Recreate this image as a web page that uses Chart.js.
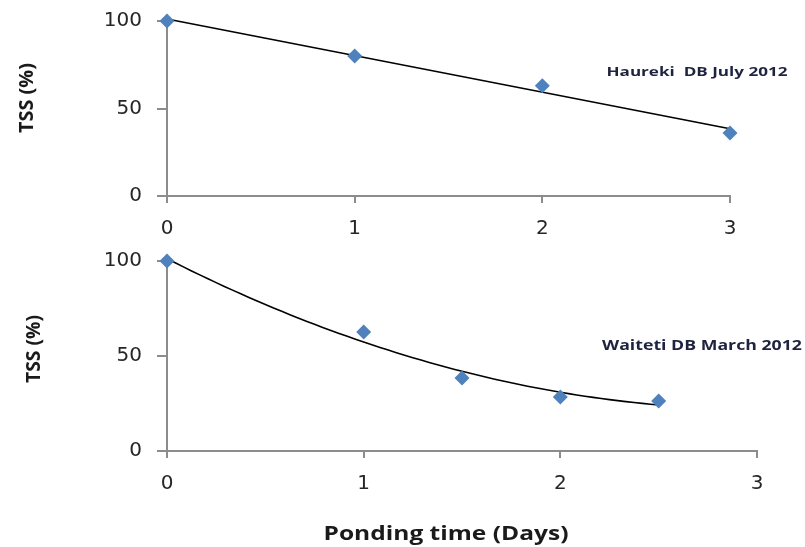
<!DOCTYPE html>
<html>
<head>
<meta charset="utf-8">
<script src="https://cdn.jsdelivr.net/npm/chart.js@4/dist/chart.umd.min.js"></script>
<style>
  html, body { margin: 0; padding: 0; background: #fff; }
  #wrap { position: relative; width: 805px; height: 547px; overflow: hidden; }
  .pane { position: absolute; left: 0; }
</style>
</head>
<body>
<div id="wrap">
  <div class="pane" style="top:0px"><canvas id="top" width="805" height="245"></canvas></div>
  <div class="pane" style="top:245px"><canvas id="bot" width="805" height="302"></canvas></div>
</div>
<script>
// ---- data ----
const xTickValues = [0, 1, 2, 3];
const yTickValues = [0, 50, 100];
const haurekiDays = [0, 1, 2, 3];
const haurekiTSS  = [100, 80, 63, 36];
const waitetiDays = [0, 1, 1.5, 2, 2.5];
const waitetiTSS  = [100, 62.6, 38.4, 28.4, 26.3];
const yTitle = 'TSS (%)';
const xTitle = 'Ponding time (Days)';
const haurekiLabel = 'Haureki  DB July 2012';
const waitetiLabel = 'Waiteti DB March 2012';

// ---- least squares trendlines (derived from the data) ----
function polyFit(xs, ys, order) {
  const n = order + 1;
  const A = [], b = [];
  for (let r = 0; r < n; r++) {
    A.push([]);
    for (let c = 0; c < n; c++) A[r].push(xs.reduce((s, x) => s + Math.pow(x, r + c), 0));
    b.push(xs.reduce((s, x, i) => s + Math.pow(x, r) * ys[i], 0));
  }
  for (let i = 0; i < n; i++) {
    for (let k = i + 1; k < n; k++) {
      const f = A[k][i] / A[i][i];
      for (let j = i; j < n; j++) A[k][j] -= f * A[i][j];
      b[k] -= f * b[i];
    }
  }
  const coef = new Array(n).fill(0);
  for (let i = n - 1; i >= 0; i--) {
    let s = b[i];
    for (let j = i + 1; j < n; j++) s -= A[i][j] * coef[j];
    coef[i] = s / A[i][i];
  }
  return coef;
}
function trend(xs, ys, order, steps) {
  const c = polyFit(xs, ys, order);
  const x0 = Math.min(...xs), x1 = Math.max(...xs);
  const pts = [];
  for (let i = 0; i <= steps; i++) {
    const x = x0 + (x1 - x0) * i / steps;
    pts.push({ x, y: c.reduce((s, ci, k) => s + ci * Math.pow(x, k), 0) });
  }
  return pts;
}

const BLUE = '#4F81BD';
const AXIS = '#8C8C8C';
const TXT = '#262626';

const textPlugin = {
  id: 'texts',
  afterDraw(chart, args, opts) {
    const ctx = chart.ctx;
    (opts.items || []).forEach(it => {
      ctx.save();
      ctx.font = it.font;
      ctx.fillStyle = it.color || TXT;
      ctx.textBaseline = 'middle';
      ctx.textAlign = 'center';
      const w = ctx.measureText(it.text).width;
      const sx = it.width ? it.width / w : 1;
      ctx.translate(it.x, it.y);
      ctx.rotate((it.rot || 0) * Math.PI / 180);
      ctx.scale(sx, 1);
      ctx.fillText(it.text, 0, 0);
      ctx.restore();
    });
  }
};

function makeChart(id, xs, ys, order, steps, area, canvasH, texts) {
  // area = target plot rectangle inside this canvas
  const pad = { top: area.top, right: 805 - area.right, left: 0, bottom: 0 };
  const xHeight = canvasH - area.bottom;
  const chart = new Chart(document.getElementById(id), {
    type: 'scatter',
    data: {
      datasets: [
        {
          label: 'trend',
          data: trend(xs, ys, order, steps),
          showLine: true,
          borderColor: '#000',
          borderWidth: 1.6,
          pointRadius: 0,
          pointHoverRadius: 0,
          tension: 0,
          clip: false,
          order: 2
        },
        {
          label: 'TSS',
          data: xs.map((x, i) => ({ x, y: ys[i] })),
          pointStyle: 'rectRot',
          pointRadius: 7.5,
          pointHoverRadius: 7.5,
          backgroundColor: BLUE,
          borderColor: BLUE,
          borderWidth: 0,
          clip: false,
          order: 1
        }
      ]
    },
    options: {
      responsive: false,
      animation: false,
      layout: { padding: pad, autoPadding: false },
      plugins: {
        legend: { display: false },
        tooltip: { enabled: false },
        texts: { items: texts }
      },
      scales: {
        x: {
          type: 'linear',
          min: xTickValues[0],
          max: xTickValues[xTickValues.length - 1],
          afterBuildTicks: s => { s.ticks = xTickValues.map(v => ({ value: v })); },
          afterFit: s => { s.height = xHeight; s.paddingLeft = 0; s.paddingRight = 0; },
          grid: { drawOnChartArea: false, drawTicks: true, tickLength: 7, color: AXIS, lineWidth: 2 },
          border: { display: true, color: AXIS, width: 2 },
          ticks: { color: TXT, padding: 14, font: { family: 'DejaVu Sans', size: 20 } }
        },
        y: {
          type: 'linear',
          min: yTickValues[0],
          max: yTickValues[yTickValues.length - 1],
          afterBuildTicks: s => { s.ticks = yTickValues.map(v => ({ value: v })); },
          afterFit: s => { s.width = area.left; s.paddingTop = 0; s.paddingBottom = 0; },
          grid: { drawOnChartArea: false, drawTicks: true, tickLength: 10, color: AXIS, lineWidth: 2 },
          border: { display: true, color: AXIS, width: 2 },
          ticks: { color: TXT, padding: 15, font: { family: 'DejaVu Sans', size: 20 } }
        }
      }
    },
    plugins: [textPlugin]
  });
  // correct any residual layout offset so the plot rectangle matches
  for (let k = 0; k < 2; k++) {
    const ca = chart.chartArea;
    const dTop = area.top - ca.top, dBottom = ca.bottom - area.bottom, dRight = ca.right - area.right;
    if (Math.abs(dTop) < 0.5 && Math.abs(dBottom) < 0.5 && Math.abs(dRight) < 0.5) break;
    pad.top += dTop; pad.bottom += dBottom; pad.right += dRight;
    chart.options.layout.padding = Object.assign({}, pad);
    chart.update();
  }
  return chart;
}

makeChart('top', haurekiDays, haurekiTSS, 1, 1,
  { left: 167, top: 21, right: 730, bottom: 196 }, 245,
  [
    { text: yTitle, x: 28, y: 98, rot: -90, font: 'bold 19px "Open Sans"', width: 70, color: '#1a1a1a' },
    { text: haurekiLabel, x: 697, y: 72, font: 'bold 13px "Open Sans"', width: 181, color: '#1F2340' }
  ]);

makeChart('bot', waitetiDays, waitetiTSS, 2, 60,
  { left: 167, top: 16, right: 757, bottom: 206 }, 302,
  [
    { text: yTitle, x: 35, y: 104, rot: -90, font: 'bold 19px "Open Sans"', width: 68, color: '#1a1a1a' },
    { text: waitetiLabel, x: 702, y: 101, font: 'bold 14px "Open Sans"', width: 200, color: '#1F2340' },
    { text: xTitle, x: 446, y: 289, font: 'bold 20px "Open Sans"', width: 245, color: '#1a1a1a' }
  ]);
</script>
</body>
</html>
